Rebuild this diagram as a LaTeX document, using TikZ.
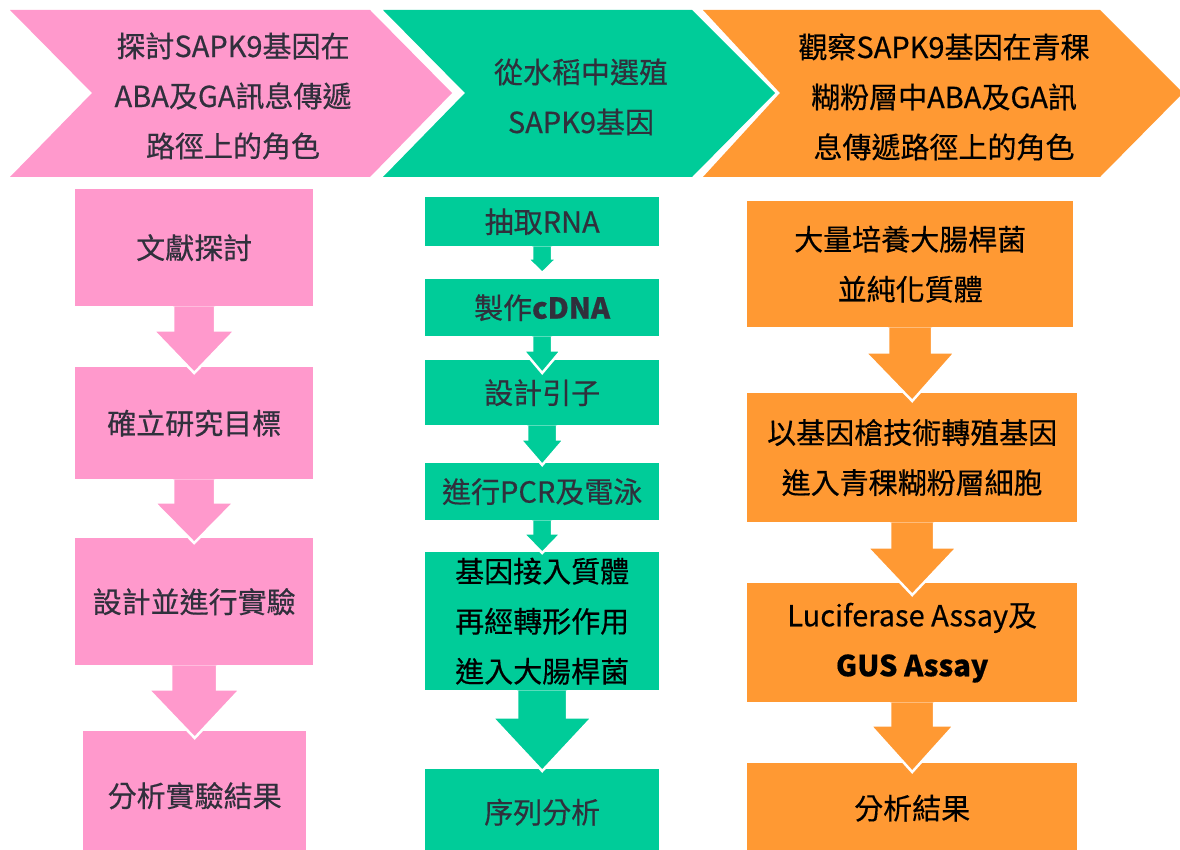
\documentclass[tikz,border=0pt]{standalone}
\usepackage{fontspec}
\newfontfamily\cjk[FakeBold=0.45]{Noto Sans CJK TC}
\usetikzlibrary{calc}
\definecolor{pk}{HTML}{FF99CC}
\definecolor{gn}{HTML}{00CC99}
\definecolor{og}{HTML}{FF9933}
\definecolor{tx}{HTML}{30303C}
\newcommand{\blockarrow}[7]{%
  \filldraw[fill=#1, draw=white, line width=2.5pt, line join=miter]
  ($(#2.south)+(-#4,0)$) -- ($(#2.south)+(-#4,#5)$) -- ($(#2.south)+(-#6,#5)$)
  -- ($(#3.north)+(0,#7)$) -- ($(#2.south)+(#6,#5)$) -- ($(#2.south)+(#4,#5)$)
  -- ($(#2.south)+(#4,0)$);
}
\tikzset{
  txt/.style={inner sep=0pt, align=center, font=\cjk\fontsize{29}{50}\selectfont},
  box/.style={txt, anchor=north west},
  pbox/.style={box, fill=pk, text=tx},
  gbox/.style={box, fill=gn, text=tx},
  obox/.style={box, fill=og, text=black},
}
\begin{document}
\begin{tikzpicture}[x=1pt, y=-1pt]
\useasboundingbox (0,0) rectangle (1180,850);
\fill[white] (0,0) rectangle (1180,850);
% chevrons
\fill[pk] (10,10) -- (370,10) -- (452,93) -- (370,177) -- (10,177) -- (92,93) -- cycle;
\fill[gn] (383,10) -- (692,10) -- (775,93) -- (692,177) -- (383,177) -- (465,93) -- cycle;
\fill[og] (703,10) -- (1100,10) -- (1183,93) -- (1100,177) -- (703,177) -- (780,93) -- cycle;
\node[txt, text=tx] (h1) at (233,96) {探討SAPK9基因在\\ABA及GA訊息傳遞\\路徑上的角色};
\node[txt, text=tx] (h2) at (581,97) {從水稻中選殖\\SAPK9基因};
\node[txt, text=black] (h3) at (944,97) {觀察SAPK9基因在青稞\\糊粉層中ABA及GA訊\\息傳遞路徑上的角色};
% pink column
\node[pbox, minimum width=238pt, minimum height=117pt] (p1) at (75,189) {文獻探討};
\node[pbox, minimum width=238pt, minimum height=112pt] (p2) at (75,367) {確立研究目標};
\node[pbox, minimum width=238pt, minimum height=127pt] (p3) at (75,538) {設計並進行實驗};
\node[pbox, minimum width=223pt, minimum height=129pt] (p4) at (83,731) {分析實驗結果};
% green column
\node[gbox, minimum width=234pt, minimum height=49pt] (g1) at (425,197) {抽取RNA};
\node[gbox, minimum width=234pt, minimum height=57pt] (g2) at (425,279) {製作\textbf{cDNA}};
\node[gbox, minimum width=234pt, minimum height=65pt] (g3) at (425,360) {設計引子};
\node[gbox, minimum width=234pt, minimum height=57pt] (g4) at (425,463) {進行PCR及電泳};
\node[gbox, text=black, minimum width=234pt, minimum height=138pt] (g5) at (425,552) {基因接入質體\\再經轉形作用\\進入大腸桿菌};
\node[gbox, minimum width=234pt, minimum height=86pt] (g6) at (425,769) {序列分析};
% orange column
\node[obox, minimum width=326pt, minimum height=126pt] (o1) at (747,201) {大量培養大腸桿菌\\並純化質體};
\node[obox, minimum width=330pt, minimum height=129pt] (o2) at (747,393) {以基因槍技術轉殖基因\\進入青稞糊粉層細胞};
\node[obox, minimum width=330pt, minimum height=119pt] (o3) at (747,583) {Luciferase Assay及\\\textbf{GUS Assay}};
\node[obox, minimum width=330pt, minimum height=90pt] (o4) at (747,763) {分析結果};
% arrows
\blockarrow{pk}{p1}{p2}{21}{24}{41}{6}
\blockarrow{pk}{p2}{p3}{21}{23}{40}{5}
\blockarrow{pk}{p3}{p4}{23}{24}{46}{7}
\blockarrow{gn}{g1}{g2}{10}{12}{15}{-6}
\blockarrow{gn}{g2}{g3}{10}{14}{19}{13}
\blockarrow{gn}{g3}{g4}{15}{14}{22}{2}
\blockarrow{gn}{g4}{g5}{10}{13}{19}{1}
\blockarrow{gn}{g5}{g6}{25}{27}{50}{2}
\blockarrow{og}{o1}{o2}{22}{25}{45}{8}
\blockarrow{og}{o2}{o3}{22}{25}{45}{12}
\blockarrow{og}{o3}{o4}{22}{23}{42}{9}
\end{tikzpicture}
\end{document}
